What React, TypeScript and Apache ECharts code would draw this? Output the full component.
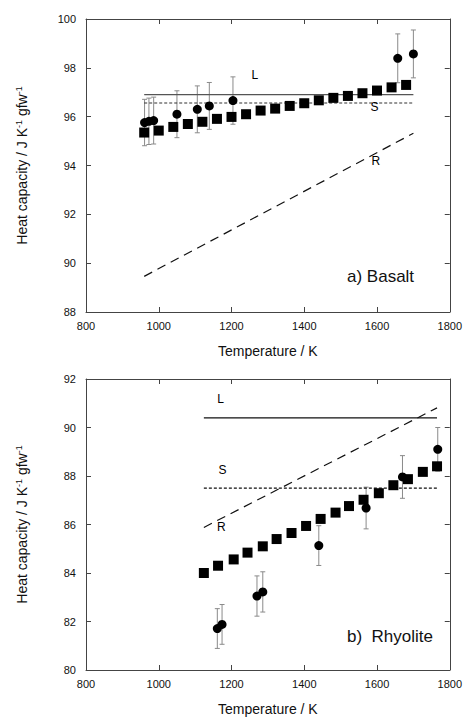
import React, { useEffect, useRef } from "react";
import * as echarts from "echarts";

// ---- Basalt (a) ----
const basaltSqT = [960, 1000, 1040, 1080, 1120, 1160, 1200, 1240, 1280, 1320, 1360, 1400, 1440, 1480, 1520, 1560, 1600, 1640, 1680];
const basaltSqCp = [95.35, 95.43, 95.58, 95.70, 95.79, 95.91, 95.99, 96.10, 96.25, 96.33, 96.44, 96.55, 96.67, 96.77, 96.85, 96.96, 97.07, 97.20, 97.30];
const basaltCirT = [961, 973, 986, 1050, 1106, 1139, 1204, 1657, 1700];
const basaltCirCp = [95.76, 95.81, 95.84, 96.10, 96.30, 96.44, 96.66, 98.39, 98.57];
const basaltCirErr = [0.95, 0.95, 0.96, 0.96, 0.96, 0.96, 0.97, 1.0, 0.98];
const basaltL = [[960, 96.9], [1700, 96.9]];
const basaltS = [[960, 96.56], [1700, 96.56]];
const basaltR = [[960, 89.46], [1700, 95.32]];
const basaltLabels = [["L", 1264, 97.44], ["S", 1593, 96.11], ["R", 1597, 93.92]];

// ---- Rhyolite (b) ----
const rhyoSqT = [1124, 1163, 1206, 1244, 1286, 1324, 1365, 1405, 1445, 1486, 1523, 1563, 1605, 1645, 1685, 1726, 1765];
const rhyoSqCp = [84.0, 84.3, 84.56, 84.84, 85.1, 85.4, 85.65, 85.94, 86.23, 86.49, 86.76, 87.02, 87.29, 87.62, 87.87, 88.17, 88.4];
const rhyoCirT = [1161, 1174, 1270, 1286, 1440, 1570, 1670, 1767];
const rhyoCirCp = [81.71, 81.88, 83.05, 83.22, 85.13, 86.68, 87.96, 89.10];
const rhyoCirErr = [0.82, 0.82, 0.83, 0.83, 0.82, 0.86, 0.88, 0.9];
const rhyoL = [[1124, 90.4], [1765, 90.4]];
const rhyoS = [[1124, 87.5], [1765, 87.5]];
const rhyoR = [[1124, 85.88], [1765, 90.81]];
const rhyoLabels = [["L", 1170, 90.91], ["S", 1175, 88.0], ["R", 1172, 85.64]];

const xTicks = { min: 800, max: 1800, interval: 200 };
const yTicksA = { min: 88, max: 100, interval: 2 };
const yTicksB = { min: 80, max: 92, interval: 2 };

const FONT = "'Liberation Sans', Arial, Helvetica, sans-serif";
const AXIS_COLOR = "#444";

function zip(a: number[], b: number[], c?: number[]) {
  return a.map((v, i) => (c ? [v, b[i], c[i]] : [v, b[i]]));
}

export default function App() {
  const ref = useRef<HTMLDivElement>(null);
  useEffect(() => {
    if (!ref.current) return;
    const chart = echarts.init(ref.current, undefined, { renderer: "svg" });

    const axisLine = { show: true, lineStyle: { color: AXIS_COLOR, width: 1 } };
    const axisTick = { show: true, inside: true, length: 5, lineStyle: { color: AXIS_COLOR } };
    const axisLabel = { color: "#111", fontSize: 11, fontFamily: FONT, formatter: (v: number) => String(v) };

    const yName = "Heat capacity / J K{s|-1} gfw{s|-1}";
    const nameRich = { s: { fontSize: 9, verticalAlign: "top", color: "#111", fontFamily: FONT, padding: [0, 0, 7, 0] } };

    const mkX = (grid: number, pos: "bottom" | "top") => ({
      type: "value",
      gridIndex: grid,
      position: pos,
      ...xTicks,
      axisLine,
      axisTick,
      axisLabel: pos === "bottom" ? { ...axisLabel, margin: 8 } : { show: false },
      splitLine: { show: false },
      name: pos === "bottom" ? "Temperature / K" : "",
      nameLocation: "middle",
      nameGap: 32,
      nameTextStyle: { fontSize: 14, color: "#111", fontFamily: FONT },
    });
    const mkY = (grid: number, pos: "left" | "right", t: any) => ({
      type: "value",
      gridIndex: grid,
      position: pos,
      ...t,
      axisLine,
      axisTick,
      axisLabel: pos === "left" ? { ...axisLabel, margin: 10 } : { show: false },
      splitLine: { show: false },
      name: pos === "left" ? yName : "",
      nameLocation: "middle",
      nameRotate: 90,
      nameGap: 56,
      nameTextStyle: { fontSize: 14, color: "#111", fontFamily: FONT, rich: nameRich },
    });

    const errSeries = (xi: number, yi: number, data: number[][]) => ({
      type: "custom",
      xAxisIndex: xi,
      yAxisIndex: yi,
      encode: { x: 0, y: 1 },
      data,
      z: 1,
      renderItem: (_p: any, api: any) => {
        const x = api.value(0), y = api.value(1), e = api.value(2);
        const t = api.coord([x, y + e]);
        const b = api.coord([x, y - e]);
        const st = { stroke: "#8a8a8a", lineWidth: 1 };
        return {
          type: "group",
          children: [
            { type: "line", shape: { x1: t[0], y1: t[1], x2: b[0], y2: b[1] }, style: st },
            { type: "line", shape: { x1: t[0] - 2.5, y1: t[1], x2: t[0] + 2.5, y2: t[1] }, style: st },
            { type: "line", shape: { x1: b[0] - 2.5, y1: b[1], x2: b[0] + 2.5, y2: b[1] }, style: st },
          ],
        };
      },
    });
    const lineSeries = (xi: number, yi: number, data: number[][], type: any, color: string) => ({
      type: "line",
      xAxisIndex: xi,
      yAxisIndex: yi,
      data,
      showSymbol: false,
      symbol: "none",
      lineStyle: { color, width: 1.2, type },
      z: 2,
    });
    const scatter = (xi: number, yi: number, data: number[][], symbol: string, size: number) => ({
      type: "scatter",
      xAxisIndex: xi,
      yAxisIndex: yi,
      data,
      symbol,
      symbolSize: size,
      itemStyle: { color: "#000", opacity: 1 },
      emphasis: { disabled: true },
      z: 3,
    });
    const labels = (xi: number, yi: number, l: any[]) => ({
      type: "scatter",
      xAxisIndex: xi,
      yAxisIndex: yi,
      data: l.map((d) => ({ value: [d[1], d[2]], name: d[0] })),
      symbolSize: 1,
      itemStyle: { color: "#fff", opacity: 0 },
      emphasis: { disabled: true },
      label: {
        show: true,
        position: "top",
        distance: 0,
        offset: [0, 7],
        formatter: (p: any) => p.name,
        fontSize: 12,
        color: "#000",
        opacity: 1,
        fontFamily: FONT,
      },
      labelLayout: { hideOverlap: false },
      z: 4,
    });

    chart.setOption({
      animation: false,
      backgroundColor: "#fff",
      grid: [
        { left: 86, top: 19, width: 365, height: 293 },
        { left: 86, top: 379, width: 365, height: 293 },
      ],
      xAxis: [mkX(0, "bottom"), mkX(0, "top"), mkX(1, "bottom"), mkX(1, "top")],
      yAxis: [mkY(0, "left", yTicksA), mkY(0, "right", yTicksA), mkY(1, "left", yTicksB), mkY(1, "right", yTicksB)],
      graphic: [
        { type: "text", left: 347, top: 268, style: { text: "a) Basalt", fontSize: 17, fill: "#111", fontFamily: FONT } },
        { type: "text", left: 347, top: 628, style: { text: "b)  Rhyolite", fontSize: 17, fill: "#111", fontFamily: FONT } },
      ],
      series: [
        errSeries(0, 0, zip(basaltCirT, basaltCirCp, basaltCirErr)),
        lineSeries(0, 0, basaltL, "solid", "#555"),
        lineSeries(0, 0, basaltS, [3, 2], "#333"),
        lineSeries(0, 0, basaltR, [9, 6], "#111"),
        scatter(0, 0, zip(basaltSqT, basaltSqCp), "rect", 10),
        scatter(0, 0, zip(basaltCirT, basaltCirCp), "circle", 9),
        labels(0, 0, basaltLabels),

        errSeries(2, 2, zip(rhyoCirT, rhyoCirCp, rhyoCirErr)),
        lineSeries(2, 2, rhyoL, "solid", "#111"),
        lineSeries(2, 2, rhyoS, [3, 2], "#111"),
        lineSeries(2, 2, rhyoR, [9, 6], "#111"),
        scatter(2, 2, zip(rhyoSqT, rhyoSqCp), "rect", 10),
        scatter(2, 2, zip(rhyoCirT, rhyoCirCp), "circle", 9),
        labels(2, 2, rhyoLabels),
      ],
    });
    return () => chart.dispose();
  }, []);
  return <div ref={ref} style={{ position: "fixed", left: 0, top: 0, width: 465, height: 717, background: "#fff" }} />;
}
